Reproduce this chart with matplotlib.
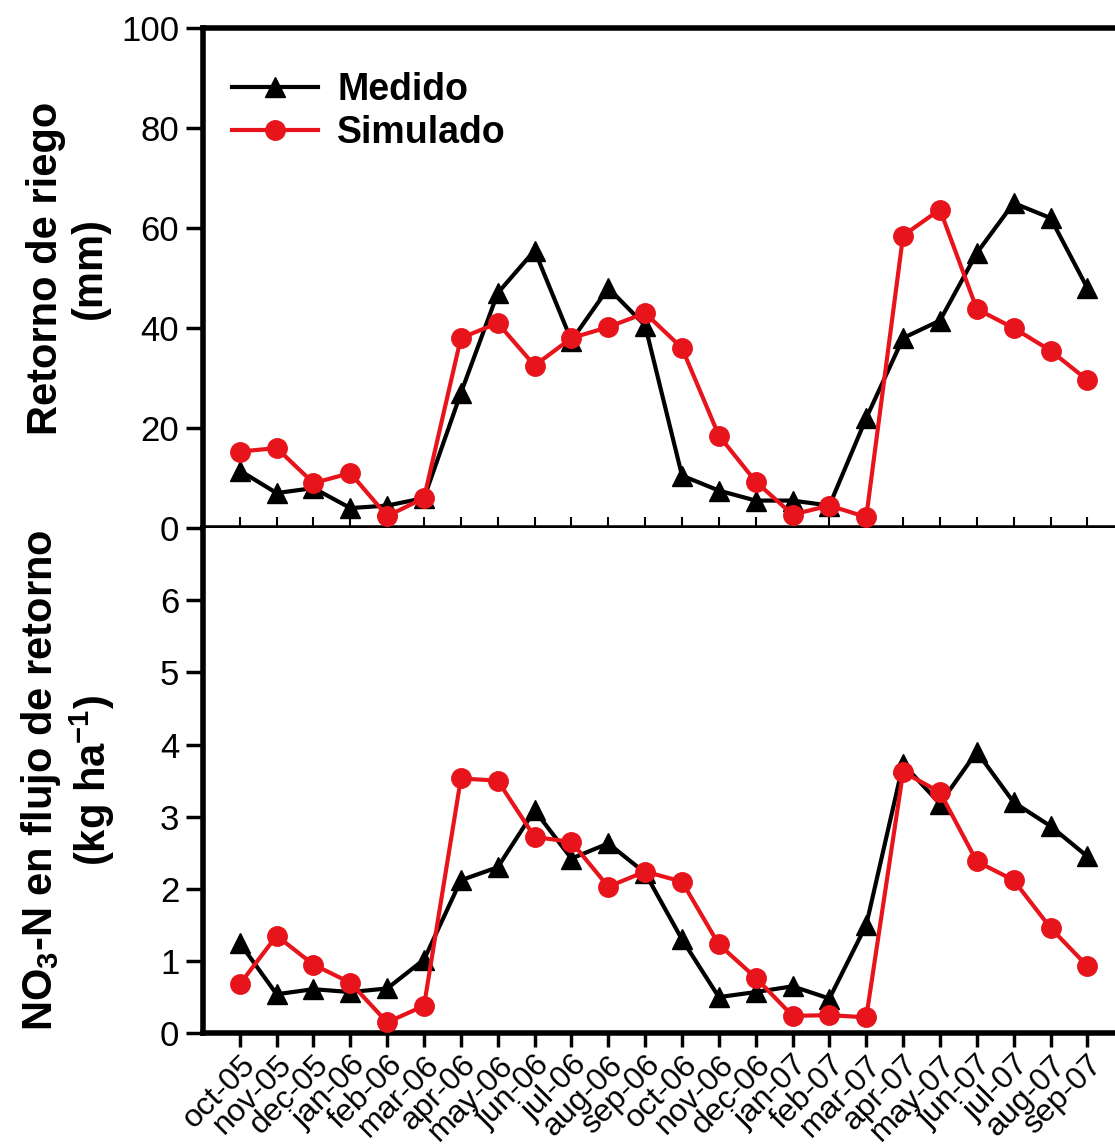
import matplotlib
matplotlib.use('Agg')
import matplotlib.pyplot as plt
import numpy as np
from matplotlib import rcParams

# months on the x axis
months = ['oct-05', 'nov-05', 'dec-05', 'jan-06', 'feb-06', 'mar-06',
          'apr-06', 'may-06', 'jun-06', 'jul-06', 'aug-06', 'sep-06',
          'oct-06', 'nov-06', 'dec-06', 'jan-07', 'feb-07', 'mar-07',
          'apr-07', 'may-07', 'jun-07', 'jul-07', 'aug-07', 'sep-07']

# irrigation return flow (mm)
riego_medido = [11.5, 7.0, 8.0, 4.0, 4.5, 6.0, 27.0, 47.0, 55.5, 37.5, 48.0, 40.5,
                10.5, 7.5, 5.5, 5.5, 4.5, 22.0, 38.0, 41.5, 55.0, 65.0, 62.0, 48.0]
riego_simulado = [15.3, 16.0, 9.0, 11.0, 2.4, 6.0, 38.0, 41.0, 32.5, 38.0, 40.2, 43.0,
                  36.0, 18.5, 9.3, 2.7, 4.5, 2.2, 58.5, 63.7, 43.8, 40.0, 35.5, 29.6]

# NO3-N in return flow (kg/ha)
no3_medido = [1.25, 0.54, 0.61, 0.57, 0.62, 1.02, 2.12, 2.3, 3.09, 2.42, 2.63, 2.22,
              1.3, 0.5, 0.57, 0.65, 0.48, 1.5, 3.73, 3.18, 3.9, 3.2, 2.87, 2.45]
no3_simulado = [0.68, 1.35, 0.95, 0.7, 0.15, 0.38, 3.53, 3.5, 2.72, 2.65, 2.03, 2.24,
                2.1, 1.23, 0.77, 0.24, 0.25, 0.22, 3.62, 3.34, 2.38, 2.12, 1.46, 0.93]

rcParams['font.family'] = ['Liberation Sans', 'DejaVu Sans']
rcParams['mathtext.default'] = 'regular'

RED = '#e8141b'
SPINE_W = 4.0
TICK_FS = 25
LABEL_FS = 30

x = np.arange(len(months))

fig = plt.figure(figsize=(11.15, 11.48), dpi=100)
ax1 = fig.add_axes([0.182, 0.540, 0.818, 0.4356])
ax2 = fig.add_axes([0.182, 0.100, 0.818, 0.440])


def style_axis(ax):
    ax.spines['right'].set_visible(False)
    for s in ['top', 'left', 'bottom']:
        ax.spines[s].set_linewidth(SPINE_W)
    ax.tick_params(axis='y', direction='out', length=12, width=2.5,
                   labelsize=TICK_FS, pad=5)
    ax.set_xlim(-1, 23.75)


def plot_pair(ax, medido, simulado):
    ax.plot(x, medido, color='black', lw=3, marker='^', ms=14,
            label='Medido', zorder=3)
    ax.plot(x, simulado, color=RED, lw=3, marker='o', ms=14,
            label='Simulado', zorder=4, clip_on=False)


# top panel
plot_pair(ax1, riego_medido, riego_simulado)
style_axis(ax1)
ax1.set_ylim(0, 100)
ax1.set_yticks(np.arange(0, 101, 20))
ax1.set_xticks(x)
ax1.tick_params(axis='x', direction='in', length=8, width=1.5,
                labelbottom=False)
ax1.text(-0.148, 0.52, 'Retorno de riego\n(mm)', transform=ax1.transAxes,
         fontsize=LABEL_FS, fontweight='bold', rotation=90, ha='center',
         va='center', linespacing=1.1)
leg = ax1.legend(loc='upper left', bbox_to_anchor=(-0.005, 0.98),
                 frameon=False, handlelength=2.3, handletextpad=0.5,
                 labelspacing=0.2, prop={'weight': 'bold', 'size': 27})

# bottom panel
plot_pair(ax2, no3_medido, no3_simulado)
style_axis(ax2)
ax2.spines['top'].set_visible(False)
ax2.set_ylim(0, 7)
ax2.set_yticks(np.arange(0, 7, 1))
ax2.set_xticks(x)
ax2.set_xticklabels(months, rotation=45, ha='right', rotation_mode='anchor',
                    fontsize=23)
ax2.tick_params(axis='x', direction='out', length=10, width=2.5, pad=2)
ax2.text(-0.148, 0.5, 'NO$_3$-N en flujo de retorno\n(kg ha$^{-1}$)',
         transform=ax2.transAxes, fontsize=LABEL_FS, fontweight='bold',
         rotation=90, ha='center', va='center', linespacing=1.1)

plt.savefig('out.png', dpi=100)
